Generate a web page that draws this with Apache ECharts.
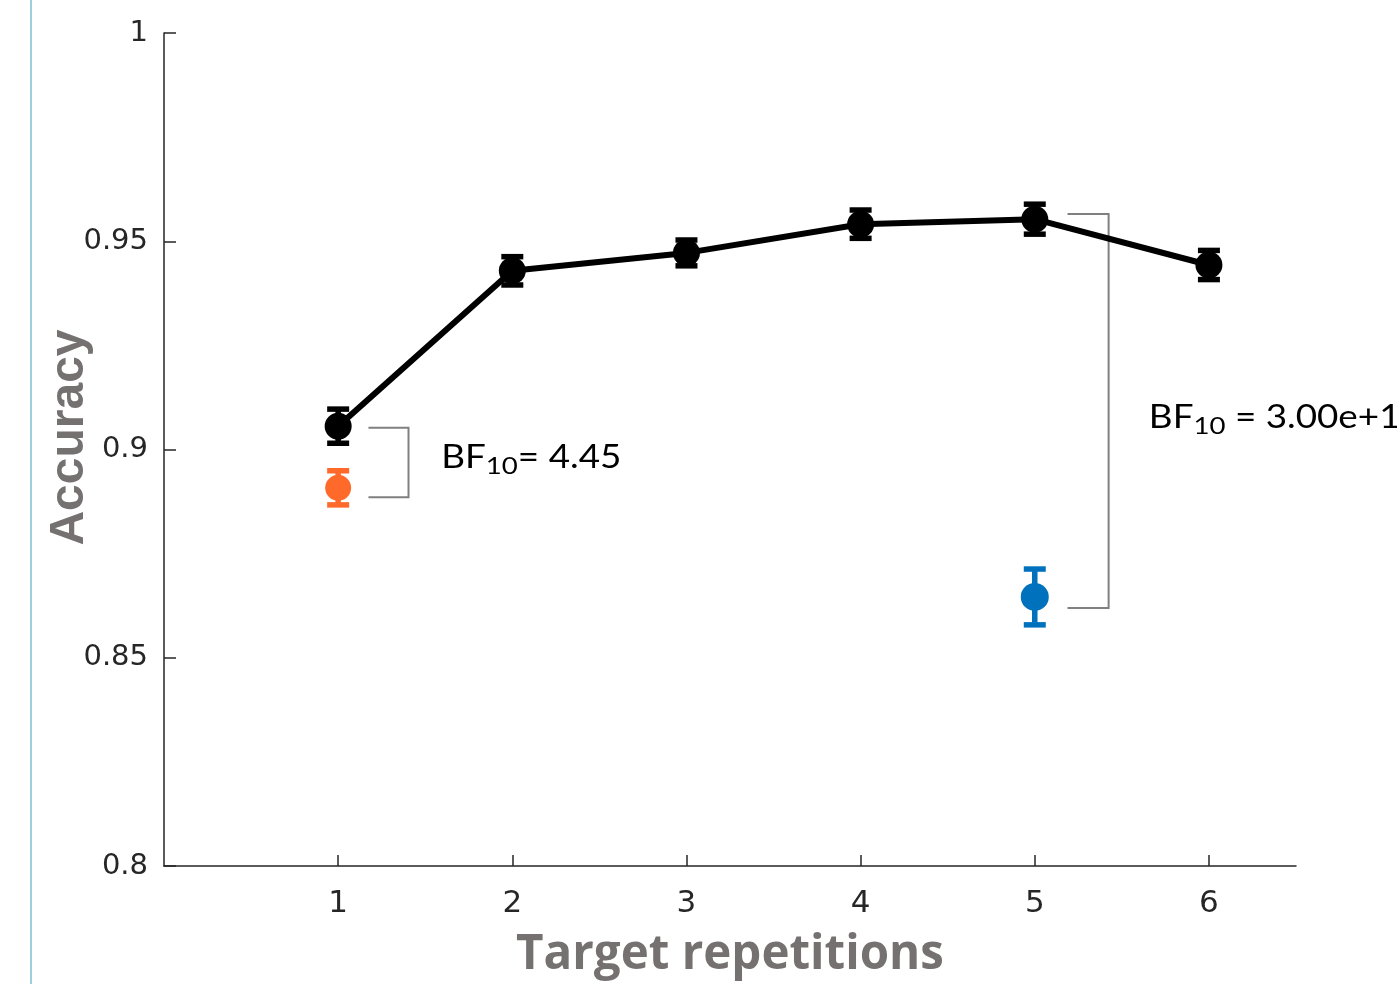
<!DOCTYPE html>
<html>
<head>
<meta charset="utf-8">
<script src="https://cdn.jsdelivr.net/npm/echarts@6/dist/echarts.min.js"></script>
<style>
html,body{margin:0;padding:0;background:#fff;}
#chart{width:1397px;height:984px;}
</style>
</head>
<body>
<div id="chart"></div>
<script>
// ---- data ----
var repetitions = [1, 2, 3, 4, 5, 6];
var accuracyMain = [0.9056, 0.9429, 0.9472, 0.9541, 0.9553, 0.9443];
var errorMain = [0.0041, 0.0034, 0.0031, 0.0034, 0.0036, 0.0035];
var orangeX = [1];
var orangeY = [0.8908];
var orangeErr = [0.0041];
var blueX = [5];
var blueY = [0.8646];
var blueErr = [0.0067];
var xTickLabels = [1, 2, 3, 4, 5, 6];
var yTickLabels = [0.8, 0.85, 0.9, 0.95, 1];
// annotations (data units): [xLeft, xRight, yTop, yBottom]
var brackets = [[1.174, 1.404, 0.90523, 0.88852], [5.188, 5.424, 0.95654, 0.86194]];
var bfTexts = [['= 4.45', 1.592, 0.8980], [' = 3.00e+11', 5.655, 0.9076]];

function zip(xs, ys, es) { return xs.map(function (x, i) { return [x, ys[i], es[i]]; }); }

function errRender(color) {
  return function (params, api) {
    var x = api.value(0), y = api.value(1), e = api.value(2);
    var top = api.coord([x, y + e]);
    var bot = api.coord([x, y - e]);
    var hw = 11;
    var st = { stroke: color, lineWidth: 5.5 };
    return { type: 'group', children: [
      { type: 'line', shape: { x1: top[0], y1: top[1], x2: bot[0], y2: bot[1] }, style: st },
      { type: 'line', shape: { x1: top[0] - hw, y1: top[1], x2: top[0] + hw, y2: top[1] }, style: st },
      { type: 'line', shape: { x1: bot[0] - hw, y1: bot[1], x2: bot[0] + hw, y2: bot[1] }, style: st }
    ]};
  };
}

var chart = echarts.init(document.getElementById('chart'), null, { renderer: 'canvas' });
var axisColor = '#262626';
var option = {
  backgroundColor: '#ffffff',
  animation: false,
  graphic: [{ type: 'line', shape: { x1: 31, y1: 0, x2: 31, y2: 984 }, style: { stroke: '#9fcfdc', lineWidth: 2 } }],
  grid: { left: 164, top: 33, right: 101, bottom: 118, containLabel: false },
  xAxis: {
    type: 'value', min: 0, max: 6.5,
    name: 'Target repetitions', nameLocation: 'middle', nameGap: 65, nameMoveOverlap: false,
    nameTextStyle: { fontFamily: 'Open Sans', fontWeight: 'bold', fontSize: 47.5, color: '#767171' },
    axisLine: { lineStyle: { color: axisColor, width: 1.5 } },
    axisTick: { inside: true, length: 11, customValues: xTickLabels, lineStyle: { color: axisColor, width: 1.5 } },
    axisLabel: { customValues: xTickLabels, margin: 22, fontFamily: 'DejaVu Sans', fontSize: 31, color: axisColor },
    splitLine: { show: false }
  },
  yAxis: {
    type: 'value', min: 0.8, max: 1, interval: 0.05,
    name: 'Accuracy', nameLocation: 'middle', nameGap: 70, nameRotate: 90, nameMoveOverlap: false,
    nameTextStyle: { fontFamily: 'Liberation Sans', fontWeight: 'bold', fontSize: 48, color: '#767171', padding: [0, 0, 0, 24] },
    axisLine: { show: true, lineStyle: { color: axisColor, width: 1.5 } },
    axisTick: { show: true, inside: true, length: 12, customValues: yTickLabels, lineStyle: { color: axisColor, width: 1.5 } },
    axisLabel: { customValues: yTickLabels, margin: 16, fontFamily: 'DejaVu Sans', fontSize: 29, color: axisColor,
      formatter: function (v) { return String(+v.toFixed(2)); } },
    splitLine: { show: false }
  },
  series: [
    { type: 'custom', renderItem: function (params, api) {
        var b = brackets[params.dataIndex];
        var p1 = api.coord([b[0], b[2]]), p2 = api.coord([b[1], b[2]]);
        var p3 = api.coord([b[1], b[3]]), p4 = api.coord([b[0], b[3]]);
        return { type: 'polyline', shape: { points: [p1, p2, p3, p4] },
          style: { stroke: '#808080', lineWidth: 2, fill: null } };
      }, data: brackets.map(function (b, i) { return [b[0], b[2], i]; }), z: 1, silent: true },
    { type: 'custom', renderItem: function (params, api) {
        var t = bfTexts[params.dataIndex];
        var p = api.coord([t[1], t[2]]);
        return { type: 'text', x: p[0], y: p[1], scaleX: 1.15, style: {
          text: '{b|BF}{s|10}{b|' + t[0] + '}', verticalAlign: 'middle', align: 'left',
          rich: {
            b: { fontFamily: 'Lato', fontSize: 32, color: '#111', lineHeight: 40 },
            s: { fontFamily: 'Lato', fontSize: 24, color: '#111', lineHeight: 22, verticalAlign: 'bottom' }
          } } };
      }, data: bfTexts.map(function (t) { return [t[1], t[2]]; }), z: 5, silent: true },
    { type: 'custom', renderItem: errRender('#000000'), data: zip(repetitions, accuracyMain, errorMain), z: 3 },
    { type: 'custom', renderItem: errRender('#ff6a2b'), data: zip(orangeX, orangeY, orangeErr), z: 3 },
    { type: 'custom', renderItem: errRender('#0072bd'), data: zip(blueX, blueY, blueErr), z: 3 },
    { type: 'line', data: repetitions.map(function (x, i) { return [x, accuracyMain[i]]; }),
      symbol: 'circle', symbolSize: 27, showSymbol: true,
      lineStyle: { color: '#000', width: 6 }, itemStyle: { color: '#000' }, z: 4 },
    { type: 'scatter', data: orangeX.map(function (x, i) { return [x, orangeY[i]]; }),
      symbol: 'circle', symbolSize: 26, itemStyle: { color: '#ff6a2b', opacity: 1 }, z: 4 },
    { type: 'scatter', data: blueX.map(function (x, i) { return [x, blueY[i]]; }),
      symbol: 'circle', symbolSize: 28, itemStyle: { color: '#0072bd', opacity: 1 }, z: 4 }
  ]
};
chart.setOption(option);
</script>
</body>
</html>
